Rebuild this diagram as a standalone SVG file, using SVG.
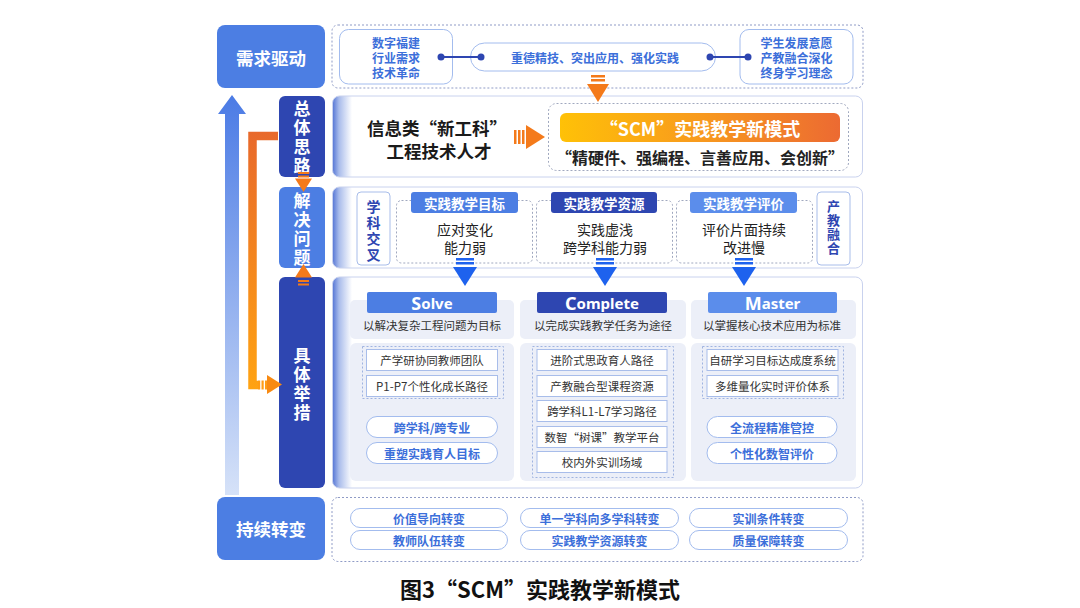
<svg xmlns="http://www.w3.org/2000/svg" width="1080" height="608" viewBox="0 0 1080 608">
<defs>
<style>
text{font-family:"Noto Sans CJK SC","Noto Sans",sans-serif;dominant-baseline:central;text-anchor:middle}
.mid{fill:#4C7EE3}
.dark{fill:#2E46B1}
.light{fill:#5B8DEB}
.vt{fill:#fff;font-size:17px;font-weight:700;writing-mode:vertical-rl;letter-spacing:2px}
.big{fill:#fff;font-size:17.5px;font-weight:700}
.dash{fill:none;stroke:#8F9BC6;stroke-width:1;stroke-dasharray:2 2}
.dash2{fill:#fff;stroke:#A0A8BF;stroke-width:1;stroke-dasharray:2 2}
.pill{fill:#fff;stroke:#A3BCEE;stroke-width:1}
.ptxt{fill:#3C6FDA;font-size:12px;font-weight:700}
.btxt{fill:#3C6FDA;font-size:12px;font-weight:700}
.item{fill:#fff;stroke:#A8BDEA;stroke-width:1}
.itxt{fill:#333;font-size:11.5px}
.panel{fill:url(#pg);stroke:#C9D2EE;stroke-width:1}
.gray{fill:#ECEFF8}
.hdr{fill:#fff;font-size:13.5px;font-weight:700}
.ctr{fill:#222;font-size:14px}
.sub{fill:#333;font-size:11.5px}
.eng{font-family:"Noto Sans","Open Sans",sans-serif;fill:#fff;font-weight:700}
.org{fill:#F47A1A}
.blu{fill:#1E62EE}
.vbox{fill:#fff;stroke:#A8BDEA;stroke-width:1}
.vb{fill:#2E46B1;font-weight:700;writing-mode:vertical-rl}
.idash{fill:none;stroke:#9FB3E0;stroke-width:1;stroke-dasharray:2 2}
</style>
<linearGradient id="pg" gradientUnits="userSpaceOnUse" x1="332" y1="0" x2="352" y2="0">
<stop offset="0" stop-color="#4D6FD3"/>
<stop offset="0.35" stop-color="#A9BCEB"/>
<stop offset="1" stop-color="#FFFFFF"/>
</linearGradient>
<linearGradient id="upg" x1="0" y1="0" x2="0" y2="1">
<stop offset="0" stop-color="#4B7BE5"/>
<stop offset="1" stop-color="#D6E2F8"/>
</linearGradient>
<linearGradient id="og" gradientUnits="userSpaceOnUse" x1="0" y1="132" x2="0" y2="390">
<stop offset="0" stop-color="#E8692B"/>
<stop offset="1" stop-color="#FFA312"/>
</linearGradient>
<linearGradient id="scm" x1="0" y1="0" x2="1" y2="0">
<stop offset="0" stop-color="#FFC107"/>
<stop offset="0.5" stop-color="#F89A1E"/>
<stop offset="1" stop-color="#EC6A32"/>
</linearGradient>
</defs>
<rect width="1080" height="608" fill="#fff"/>

<g id="label-demand">
<rect x="217" y="25" width="108" height="63" rx="8" class="mid"/>
<text x="271" y="57" class="big">需求驱动</text>
</g>
<g id="label-overall">
<rect x="279" y="96" width="46" height="81" rx="6" class="dark"/>
<text x="302" y="138.5" class="vt">总体思路</text>
</g>
<g id="label-problem">
<rect x="279" y="187" width="46" height="81" rx="6" class="mid"/>
<text x="302" y="230.5" class="vt">解决问题</text>
</g>
<g id="label-measures">
<rect x="279" y="277" width="46" height="211" rx="6" class="dark"/>
<text x="302" y="385.5" class="vt">具体举措</text>
</g>
<g id="label-change">
<rect x="217" y="497" width="108" height="63" rx="8" class="mid"/>
<text x="271" y="528.5" class="big">持续转变</text>
</g>

<g id="demand-row">
<rect x="332" y="25" width="531" height="63" rx="6" class="dash"/>
<rect x="339.5" y="29.5" width="113" height="54.5" rx="9" class="pill"/>
<text class="btxt"><tspan x="396" y="42">数字福建</tspan><tspan x="396" y="57">行业需求</tspan><tspan x="396" y="72">技术革命</tspan></text>
<rect x="470.5" y="43" width="245" height="28" rx="14" class="pill"/>
<text x="595" y="57" class="btxt" font-size="13.5">重德精技、突出应用、强化实践</text>
<rect x="740" y="29.5" width="113" height="54.5" rx="9" class="pill"/>
<text class="btxt"><tspan x="796.5" y="42">学生发展意愿</tspan><tspan x="796.5" y="57">产教融合深化</tspan><tspan x="796.5" y="72">终身学习理念</tspan></text>
</g>

<g id="overall-row">
<rect x="332.5" y="96" width="530" height="81" rx="7" class="panel"/>
<text x="437" y="127" fill="#1a1a1a" font-size="17.5" font-weight="700">信息类“新工科”</text>
<text x="439" y="150" fill="#1a1a1a" font-size="17.5" font-weight="700">工程技术人才</text>
<rect x="548.5" y="103.5" width="300" height="67" rx="8" class="dash2"/>
<rect x="560" y="113" width="280" height="29" rx="6" fill="url(#scm)"/>
<text x="700" y="128" fill="#fff" font-size="18" font-weight="700">“SCM”实践教学新模式</text>
<text x="700" y="157" fill="#222" font-size="16" font-weight="700">“精硬件、强编程、言善应用、会创新”</text>
</g>

<g id="problem-row">
<rect x="332.5" y="187" width="530" height="81" rx="7" class="panel"/>
<rect x="357" y="192" width="33" height="73" rx="4" class="vbox"/>
<text x="373.5" y="232" class="vb" font-size="14" letter-spacing="2">学科交叉</text>
<rect x="817" y="192" width="33" height="73" rx="4" class="vbox"/>
<text x="833.5" y="227.5" class="vb" font-size="13" letter-spacing="1">产教融合</text>
<rect x="396.5" y="200.5" width="136" height="62.5" rx="5" class="dash2"/>
<rect x="536.5" y="200.5" width="136" height="62.5" rx="5" class="dash2"/>
<rect x="676.5" y="200.5" width="136" height="62.5" rx="5" class="dash2"/>
<rect x="411" y="192" width="107" height="21" rx="3" class="mid"/>
<text x="464.5" y="202.5" class="hdr">实践教学目标</text>
<rect x="551" y="192" width="106" height="21" rx="3" class="dark"/>
<text x="604" y="202.5" class="hdr">实践教学资源</text>
<rect x="690" y="192" width="107" height="21" rx="3" class="light"/>
<text x="743.5" y="202.5" class="hdr">实践教学评价</text>
<text class="ctr"><tspan x="465" y="229">应对变化</tspan><tspan x="465" y="247">能力弱</tspan></text>
<text class="ctr"><tspan x="605" y="229">实践虚浅</tspan><tspan x="605" y="247">跨学科能力弱</tspan></text>
<text class="ctr"><tspan x="744" y="229">评价片面持续</tspan><tspan x="744" y="247">改进慢</tspan></text>
</g>

<g id="measures-row">
<rect x="332.5" y="277" width="530" height="211" rx="7" class="panel"/>
<rect x="350" y="300" width="164" height="39" rx="5" class="gray"/>
<rect x="520" y="300" width="166" height="39" rx="5" class="gray"/>
<rect x="691" y="300" width="165" height="39" rx="5" class="gray"/>
<rect x="350" y="343" width="164" height="138" rx="6" class="gray"/>
<rect x="520" y="343" width="166" height="138" rx="6" class="gray"/>
<rect x="691" y="343" width="165" height="138" rx="6" class="gray"/>
</g>

<g id="col-solve">
<rect x="367" y="292" width="130" height="21" rx="2" class="mid"/>
<text x="432" y="303" class="eng"><tspan font-size="18">S</tspan><tspan font-size="15">olve</tspan></text>
<text x="432" y="325" class="sub">以解决复杂工程问题为目标</text>
<rect x="362.5" y="346.5" width="141" height="52" class="idash"/>
<rect x="366.5" y="349.5" width="131" height="21" class="item"/>
<text x="432" y="360" class="itxt">产学研协同教师团队</text>
<rect x="366.5" y="375.5" width="131" height="21" class="item"/>
<text x="432" y="386" class="itxt">P1-P7个性化成长路径</text>
<rect x="366.5" y="416.5" width="131" height="21" rx="10.5" class="pill"/>
<text x="432" y="427" class="ptxt">跨学科/跨专业</text>
<rect x="366.5" y="442.5" width="131" height="21" rx="10.5" class="pill"/>
<text x="432" y="453" class="ptxt">重塑实践育人目标</text>
</g>

<g id="col-complete">
<rect x="537" y="292" width="130" height="21" rx="2" class="dark"/>
<text x="602" y="303" class="eng"><tspan font-size="18">C</tspan><tspan font-size="15">omplete</tspan></text>
<text x="603" y="325" class="sub">以完成实践教学任务为途径</text>
<rect x="532.5" y="346.5" width="141" height="131" class="idash"/>
<rect x="537" y="349.5" width="130" height="21" class="item"/>
<text x="602" y="360" class="itxt">进阶式思政育人路径</text>
<rect x="537" y="375.5" width="130" height="21" class="item"/>
<text x="602" y="386" class="itxt">产教融合型课程资源</text>
<rect x="537" y="400.5" width="130" height="21" class="item"/>
<text x="602" y="411" class="itxt">跨学科L1-L7学习路径</text>
<rect x="537" y="426.5" width="130" height="21" class="item"/>
<text x="602" y="437" class="itxt">数智“树课”教学平台</text>
<rect x="537" y="451.5" width="130" height="21" class="item"/>
<text x="602" y="462" class="itxt">校内外实训场域</text>
</g>

<g id="col-master">
<rect x="708" y="292" width="129" height="21" rx="2" class="light"/>
<text x="772.5" y="303" class="eng"><tspan font-size="18">M</tspan><tspan font-size="15">aster</tspan></text>
<text x="772" y="325" class="sub">以掌握核心技术应用为标准</text>
<rect x="702.5" y="346.5" width="141" height="52" class="idash"/>
<rect x="707" y="349.5" width="131" height="21" class="item"/>
<text x="772.5" y="360" class="itxt">自研学习目标达成度系统</text>
<rect x="707" y="375.5" width="131" height="21" class="item"/>
<text x="772.5" y="386" class="itxt">多维量化实时评价体系</text>
<rect x="707" y="416.5" width="130" height="21" rx="10.5" class="pill"/>
<text x="772" y="427" class="ptxt">全流程精准管控</text>
<rect x="707" y="442.5" width="130" height="21" rx="10.5" class="pill"/>
<text x="772" y="453" class="ptxt">个性化数智评价</text>
</g>

<g id="change-row">
<rect x="332" y="497.5" width="531" height="64" rx="6" class="dash"/>
<rect x="350.5" y="508.5" width="157" height="19" rx="9.5" class="pill"/>
<text x="429" y="518" class="ptxt">价值导向转变</text>
<rect x="520.5" y="508.5" width="158" height="19" rx="9.5" class="pill"/>
<text x="599.5" y="518" class="ptxt">单一学科向多学科转变</text>
<rect x="689.5" y="508.5" width="158" height="19" rx="9.5" class="pill"/>
<text x="768.5" y="518" class="ptxt">实训条件转变</text>
<rect x="350.5" y="530.5" width="157" height="19" rx="9.5" class="pill"/>
<text x="429" y="540" class="ptxt">教师队伍转变</text>
<rect x="520.5" y="530.5" width="158" height="19" rx="9.5" class="pill"/>
<text x="599.5" y="540" class="ptxt">实践教学资源转变</text>
<rect x="689.5" y="530.5" width="158" height="19" rx="9.5" class="pill"/>
<text x="768.5" y="540" class="ptxt">质量保障转变</text>
</g>

<g id="caption">
<text x="540" y="588" fill="#111" font-size="22" font-weight="700">图3“SCM”实践教学新模式</text>
</g>

<g id="connectors">
<path d="M225,495 L225,114 L218,114 L232,95 L246,114 L239,114 L239,495 Z" fill="url(#upg)"/>
<path d="M278,136 L252.5,136 L252.5,385 L258,385" fill="none" stroke="url(#og)" stroke-width="8.5"/>
<rect x="258" y="380.5" width="2.2" height="9" fill="#FF9C14"/>
<rect x="261.5" y="380.5" width="2.2" height="9" fill="#FF9C14"/>
<rect x="265" y="380.5" width="2.2" height="9" fill="#FF9C14"/>
<polygon points="267,375 282,384.5 267,394" fill="#F88A12"/>
<rect x="298" y="172" width="11" height="2" class="org"/>
<rect x="298" y="175.5" width="11" height="2" class="org"/>
<polygon points="295,178.5 312,178.5 303.5,192" class="org"/>
<polygon points="295,277.5 312,277.5 303.5,264" class="org"/>
<rect x="298" y="280" width="11" height="2" class="org"/>
<rect x="298" y="283.5" width="11" height="2" class="org"/>
<rect x="591" y="75" width="14" height="2.5" class="org"/>
<rect x="591" y="79" width="14" height="2.5" class="org"/>
<polygon points="587,84 609,84 598,102" class="org"/>
<rect x="514" y="130" width="2.5" height="14" class="org"/>
<rect x="518" y="130" width="2.5" height="14" class="org"/>
<rect x="522" y="130" width="2.5" height="14" class="org"/>
<polygon points="526,125 545,137 526,149" class="org"/>
<g class="blu">
<rect x="456" y="258" width="18" height="2.5"/><rect x="456" y="262" width="18" height="2.5"/><polygon points="453,267 477,267 465,286"/>
<rect x="596" y="258" width="18" height="2.5"/><rect x="596" y="262" width="18" height="2.5"/><polygon points="593,267 617,267 605,286"/>
<rect x="735" y="258" width="18" height="2.5"/><rect x="735" y="262" width="18" height="2.5"/><polygon points="732,267 756,267 744,286"/>
</g>
<line x1="441" y1="57" x2="481" y2="57" stroke="#2E46B1" stroke-width="2"/>
<circle cx="441" cy="57" r="3.5" fill="#2E46B1"/>
<circle cx="481" cy="57" r="3.5" fill="#2E46B1"/>
<line x1="710" y1="57" x2="748" y2="57" stroke="#2E46B1" stroke-width="2"/>
<circle cx="710" cy="57" r="3.5" fill="#2E46B1"/>
<circle cx="748" cy="57" r="3.5" fill="#2E46B1"/>
</g>
</svg>
